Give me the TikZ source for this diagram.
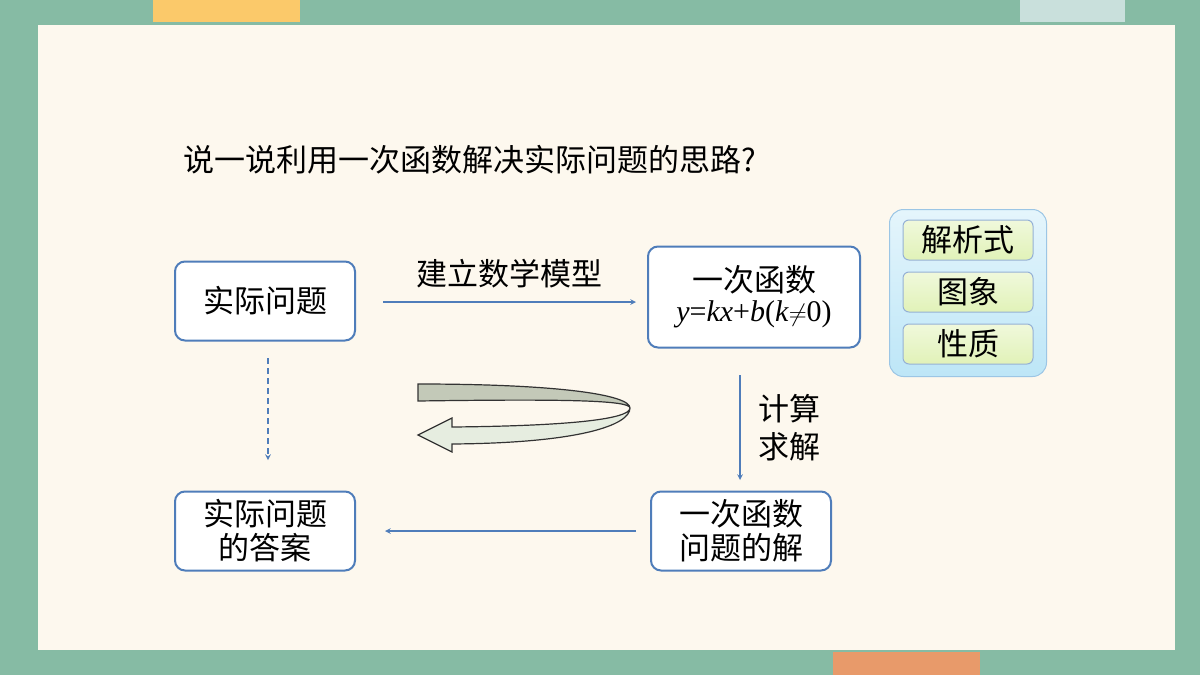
\documentclass[tikz,border=0pt]{standalone}
\usepackage{fontspec}
\setmainfont{Liberation Serif}
\newfontfamily\cjk{Noto Sans CJK SC}
\newfontfamily\formula{Liberation Serif}
\definecolor{bggreen}{HTML}{86BBA4}
\definecolor{panel}{HTML}{FDF8EE}
\definecolor{tabyellow}{HTML}{FBC96A}
\definecolor{tablight}{HTML}{C9E0DC}
\definecolor{taborange}{HTML}{E89A6A}
\definecolor{edgeblue}{HTML}{4F7DBA}
\definecolor{groupblue}{HTML}{BDE6F7}
\definecolor{itemgreen}{HTML}{E1F2B8}
\definecolor{bandgray}{HTML}{C3C9B8}
\definecolor{bandlight}{HTML}{E6EDE0}
\tikzset{
  stepbox/.style={draw=edgeblue,line width=2pt,rounded corners=10pt,fill=white,
    minimum width=180pt,minimum height=79pt,align=center,
    font=\cjk\fontsize{31}{36}\selectfont},
  itembox/.style={draw=edgeblue!60,line width=1pt,rounded corners=6pt,
    top color=itemgreen!50,bottom color=itemgreen,minimum width=130pt,minimum height=40pt,
    font=\cjk\fontsize{31}{36}\selectfont},
  flow/.style={draw=edgeblue,line width=1.5pt,-stealth},
  lbl/.style={font=\cjk\fontsize{31}{38}\selectfont,align=center}
}
\begin{document}
\begin{tikzpicture}[x=1pt,y=-1pt]
    \useasboundingbox (0,0) rectangle (1200,675);
    \fill[bggreen] (0,0) rectangle (1200,675);
    \fill[panel] (38,25) rectangle (1175,650);
    \fill[tabyellow] (153,0) rectangle (300,22);
    \fill[tablight] (1020,0) rectangle (1125,22);
    \fill[taborange] (833,652) rectangle (980,675);

    \node[anchor=west,font=\cjk\fontsize{31}{36}\selectfont] (title) at (180,160)
        {说一说利用一次函数解决实际问题的思路?};

    \node[stepbox] (real) at (265,301) {实际问题};
    \node[stepbox,minimum width=212pt,minimum height=101pt,inner sep=2pt] (func) at (754,297)
        {一次函数\\[-6pt]{\formula\fontsize{30}{32}\selectfont\textit{y}=\textit{kx}+\textit{b}(\textit{k}$\neq$0)}};
    \node[stepbox,font=\cjk\fontsize{31}{34}\selectfont] (sol) at (741,531) {一次函数\\问题的解};
    \node[stepbox,font=\cjk\fontsize{31}{34}\selectfont] (ans) at (265,531) {实际问题\\的答案};

    % group of properties
    \node[draw=groupblue!70!edgeblue,line width=1pt,rounded corners=14pt,
        top color=groupblue!40,bottom color=groupblue,minimum width=157pt,minimum height=167pt] (group) at (968,293) {};
    \node[itembox] (expr) at (968,240) {解析式};
    \node[itembox] (graph) at (968,292) {图象};
    \node[itembox] (prop) at (968,344) {性质};

    \coordinate (r1) at (383,302);
    \coordinate (r2) at (636,302);
    \draw[flow] (r1) -- (r2) node[midway,above=10pt,lbl] (model) {建立数学模型};
    \coordinate (d1) at (740,375);
    \coordinate (d2) at (740,480);
    \draw[flow] (d1) -- (d2) node[midway,right=14pt,lbl] (calc) {计算\\求解};
    \coordinate (s1) at (636,531);
    \coordinate (s2) at (385,531);
    \draw[flow] (s1) -- (s2);
    \coordinate (a1) at (268,358);
    \coordinate (a2) at (268,460);
    \draw[flow,dash pattern=on 6pt off 4pt] (a1) -- (a2);

    % return band
    \draw[fill=bandgray,draw=black!80,line width=1.2pt]
        (418,384) .. controls (560,384) and (630,395) .. (630,408)
        .. controls (630,400) and (560,399) .. (418,401) -- cycle;
    \draw[fill=bandlight,draw=black!80,line width=1.2pt]
        (630,408) .. controls (630,420) and (560,426) .. (452,427)
        -- (452,418) -- (418,435) -- (452,452) -- (452,444)
        .. controls (580,443) and (630,425) .. (630,408) -- cycle;
\end{tikzpicture}
\end{document}
